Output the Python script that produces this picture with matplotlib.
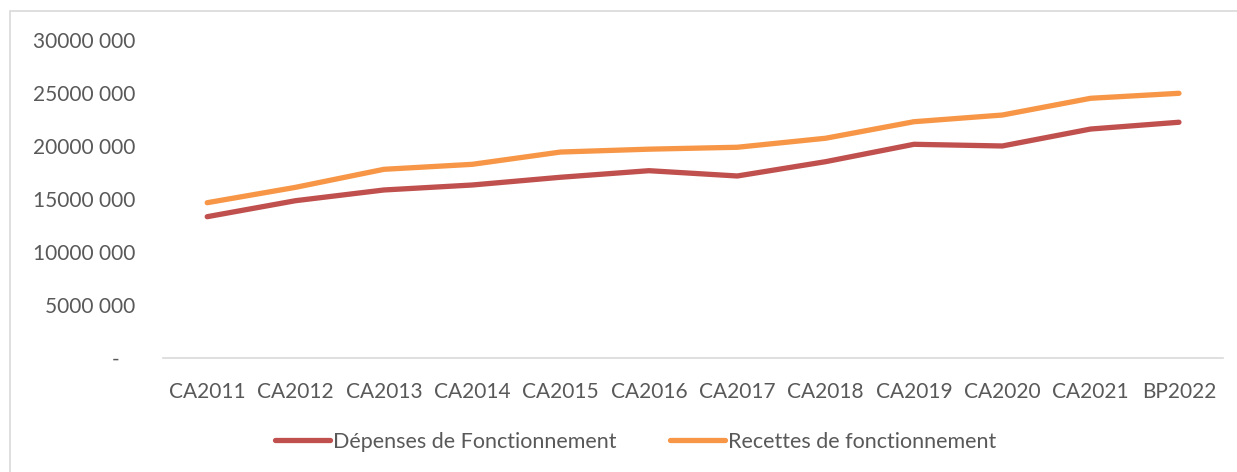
import matplotlib.pyplot as plt
from matplotlib.patches import Rectangle
from matplotlib.ticker import FuncFormatter

plt.rcParams['font.family'] = ['Lato', 'DejaVu Sans']

years = ['CA2011', 'CA2012', 'CA2013', 'CA2014', 'CA2015', 'CA2016',
         'CA2017', 'CA2018', 'CA2019', 'CA2020', 'CA2021', 'BP2022']
depenses = [13.33e6, 14.84e6, 15.85e6, 16.32e6, 17.05e6, 17.67e6,
            17.17e6, 18.52e6, 20.16e6, 20.00e6, 21.60e6, 22.24e6]
recettes = [14.65e6, 16.10e6, 17.80e6, 18.27e6, 19.43e6, 19.70e6,
            19.88e6, 20.73e6, 22.29e6, 22.92e6, 24.50e6, 24.97e6]

grey = '#595959'


def fmt(v, pos):
    if v == 0:
        return '-   '
    v = int(round(v))
    return '{} {:03d}'.format(v // 1000, v % 1000)


fig = plt.figure(figsize=(12.37, 4.72), dpi=100)
ax = fig.add_axes([0.1318, 0.2415, 0.857, 0.6738])

x = range(len(years))
ax.plot(x, depenses, color='#C0504D', lw=3.8, solid_capstyle='round',
        solid_joinstyle='round', label='Dépenses de Fonctionnement')
ax.plot(x, recettes, color='#F79646', lw=3.8, solid_capstyle='round',
        solid_joinstyle='round', label='Recettes de fonctionnement')

ax.set_xlim(-0.5, len(years) - 0.5)
ax.set_ylim(0, 30e6)
ax.set_yticks(range(0, 30000001, 5000000))
ax.yaxis.set_major_formatter(FuncFormatter(fmt))
ax.set_xticks(list(x))
ax.set_xticklabels(years)
ax.tick_params(axis='y', length=0, pad=20, labelsize=15, labelcolor=grey)
ax.tick_params(axis='x', length=0, pad=17, labelsize=15, labelcolor=grey)

for s in ['top', 'right', 'left']:
    ax.spines[s].set_visible(False)
ax.spines['bottom'].set_color('#D9D9D9')
ax.spines['bottom'].set_linewidth(1.2)

fig.legend(loc='center', bbox_to_anchor=(0.514, 0.064), ncol=2,
           frameon=False, fontsize=15.5, labelcolor=grey, handlelength=2.55,
           handletextpad=0.15, columnspacing=2.5)

# outer chart frame
fig.patches.append(Rectangle((10 / 1237, -0.1), 1.2, 1 - 11 / 472 + 0.1,
                             transform=fig.transFigure, fill=False,
                             edgecolor='#D9D9D9', lw=1.2))

fig.savefig('out.png', dpi=100)
